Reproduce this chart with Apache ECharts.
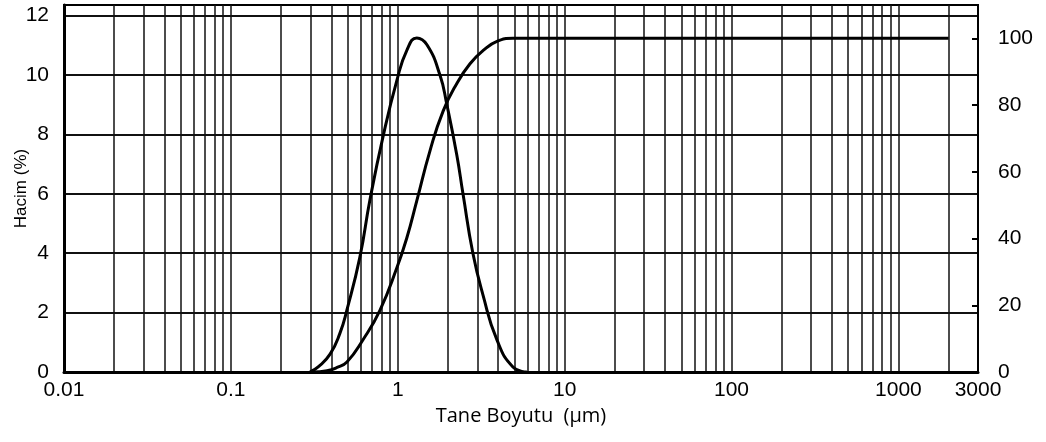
<!DOCTYPE html>
<html>
<head>
<meta charset="utf-8">
<script src="https://cdn.jsdelivr.net/npm/echarts@6/dist/echarts.min.js"></script>
<style>
  html, body { margin: 0; padding: 0; background: #fff; }
  #chart { width: 1046px; height: 442px; }
</style>
</head>
<body>
<div id="chart"></div>
<script>
// particle size (µm) vs volume (%) - frequency curve, left axis
var freqSize  = [0.298, 0.335, 0.393, 0.45, 0.496, 0.593, 0.681, 0.815, 0.989, 1.135, 1.30, 1.496, 1.79, 1.97, 2.26, 2.46, 2.82, 3.24, 3.93, 4.90, 5.94];
var freqValue = [0,     0.18,  0.6,   1.3,  2.09,  3.87,  5.79,  7.91,  9.83,  10.84, 11.25, 11.02, 10.0, 9.0,  7.3,  6.0,  4.0,  2.6,  1.08, 0.17, 0];

// cumulative curve, right axis
var cumSize  = [0.31, 0.377, 0.43, 0.496, 0.618, 0.782, 0.989, 1.135, 1.30, 1.56, 1.87, 2.26, 2.71, 3.24, 3.93, 4.90, 6.0, 2000];
var cumValue = [0,    0.4,   1.3,  3.0,   9.6,   18.5,  31.3,  40.3,  51.3, 66.3, 78.2, 86.5, 92.4, 96.3, 99.1, 100,  100, 100];

// axis labels
var xTickLabels = [0.01, 0.1, 1, 10, 100, 1000, 3000];
var leftTicks = [0, 2, 4, 6, 8, 10, 12];
var rightTicks = [0, 20, 40, 60, 80, 100];

// minor grid lines 1..9 x each decade
var xGridValues = [];
for (var p = -2; p <= 3; p++) {
    for (var m = 1; m <= 9; m++) {
        var v = m * Math.pow(10, p);
        if (v <= 3000) xGridValues.push(Math.log10(v));
    }
}

function toLog(sizes, values) {
    var out = [];
    for (var i = 0; i < sizes.length; i++) {
        out.push([Math.log10(sizes[i]), values[i]]);
    }
    return out;
}

var fontAxis = '"Liberation Sans", Arial, sans-serif';

var option = {
    animation: false,
    backgroundColor: '#fff',
    grid: {
        left: 64,
        right: 68,
        top: 5,
        bottom: 70,
        outerBoundsMode: 'none',
        containLabel: false,
        show: true,
        borderColor: '#000',
        borderWidth: 2
    },
    xAxis: {
        type: 'value',
        min: Math.log10(0.01),
        max: Math.log10(3000),
        name: 'Tane Boyutu  (µm)',
        nameLocation: 'middle',
        nameGap: 30,
        nameTextStyle: {
            color: '#000',
            fontSize: 20,
            fontFamily: '"Open Sans", sans-serif'
        },
        axisLine: { show: true, onZero: false, lineStyle: { color: '#000', width: 3 } },
        axisTick: { show: false, customValues: xGridValues },
        axisLabel: {
            color: '#000',
            fontSize: 21,
            fontFamily: fontAxis,
            margin: 8,
            customValues: xTickLabels.map(function (v) { return Math.log10(v); }),
            formatter: function (val) {
                var best = xTickLabels[0];
                for (var i = 0; i < xTickLabels.length; i++) {
                    if (Math.abs(Math.log10(xTickLabels[i]) - val) < Math.abs(Math.log10(best) - val)) {
                        best = xTickLabels[i];
                    }
                }
                return String(best);
            }
        },
        splitLine: { show: true, lineStyle: { color: '#111', width: 1.5 } }
    },
    yAxis: [
        {
            type: 'value',
            min: 0,
            max: 12.36,
            name: 'Hacim (%)',
            nameLocation: 'middle',
            nameGap: 34,
            nameMoveOverlap: false,
            nameTextStyle: { color: '#000', fontSize: 17, fontFamily: fontAxis },
            axisLine: { show: true, onZero: false, lineStyle: { color: '#000', width: 3 } },
            axisTick: { show: false, customValues: leftTicks },
            axisLabel: {
                color: '#000',
                fontSize: 21,
                fontFamily: fontAxis,
                margin: 15,
                customValues: leftTicks
            },
            splitLine: { show: true, lineStyle: { color: '#111', width: 2 } }
        },
        {
            type: 'value',
            min: 0,
            max: 110,
            position: 'right',
            axisLine: { show: true, onZero: false, lineStyle: { color: '#000', width: 2 } },
            axisTick: {
                show: true,
                inside: true,
                length: 6,
                customValues: rightTicks,
                lineStyle: { color: '#000', width: 2 }
            },
            axisLabel: {
                color: '#000',
                fontSize: 21,
                fontFamily: fontAxis,
                margin: 20,
                customValues: rightTicks
            },
            splitLine: { show: false }
        }
    ],
    series: [
        {
            name: 'Hacim',
            type: 'line',
            yAxisIndex: 0,
            data: toLog(freqSize, freqValue),
            smooth: 0.5,
            showSymbol: false,
            lineStyle: { color: '#000', width: 3 },
            z: 5
        },
        {
            name: 'Kümülatif',
            type: 'line',
            yAxisIndex: 1,
            data: toLog(cumSize, cumValue),
            smooth: 0.5,
            showSymbol: false,
            lineStyle: { color: '#000', width: 3 },
            z: 5
        }
    ]
};

var chart = echarts.init(document.getElementById('chart'));
chart.setOption(option);
</script>
</body>
</html>
